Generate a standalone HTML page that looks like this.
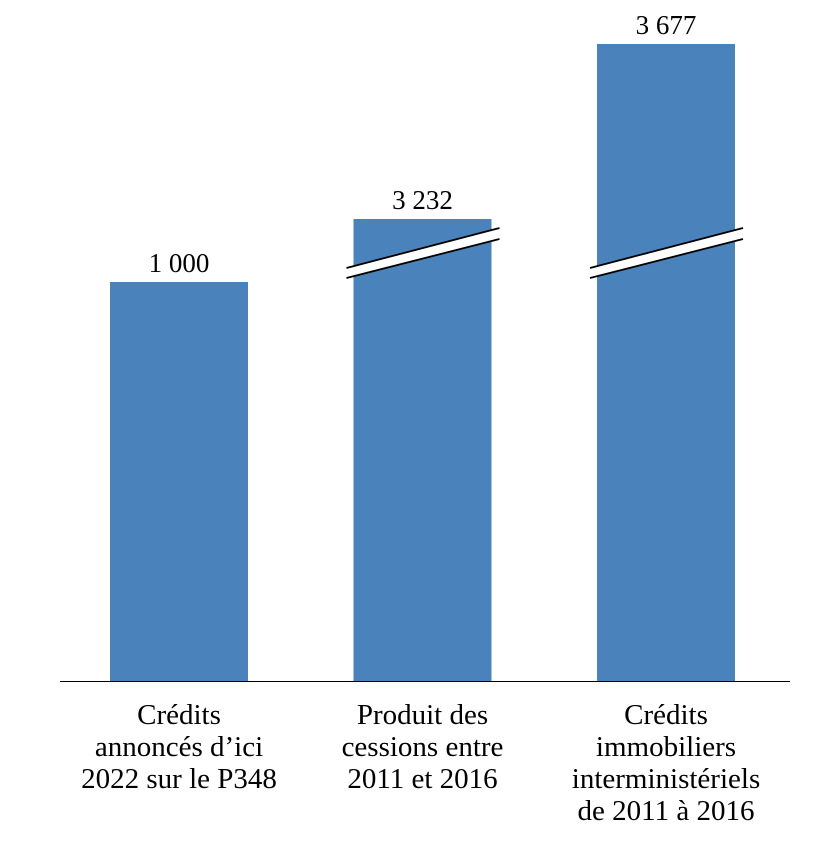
<!DOCTYPE html>
<html><head><meta charset="utf-8"><style>
body{margin:0;background:#fff;}
svg text{font-family:"Liberation Serif",serif;fill:#000;}
</style></head><body>
<svg width="824" height="850">
<g id="bars"></g>
<line x1="60" y1="681.5" x2="790" y2="681.5" stroke="#000" stroke-width="1"/>
<g id="labels"></g>
</svg>
<script>
const categories=[["Crédits","annoncés d’ici","2022 sur le P348"],["Produit des","cessions entre","2011 et 2016"],["Crédits","immobiliers","interministériels","de 2011 à 2016"]];
const values=[1000,3232,3677];
const valueLabels=["1 000","3 232","3 677"];
const broken=[false,true,true];
const base=681, barW=138;
function xPos(i){return 110+i*243.5;}
function hScale(v){return v<=1000? v*0.399 : 462+(v-3232)*0.3933;}
const ns="http://www.w3.org/2000/svg";
const gb=document.getElementById('bars'),gl=document.getElementById('labels');
values.forEach((v,i)=>{
  const x=xPos(i),h=hScale(v),y=base-h;
  const r=document.createElementNS(ns,'rect');
  r.setAttribute('x',x);r.setAttribute('y',y);r.setAttribute('width',barW);r.setAttribute('height',h);r.setAttribute('fill','#4a83bc');
  
  
  gb.appendChild(r);
  if(broken[i]){
    const p=document.createElementNS(ns,'polygon');
    const x1=x-7,x2=x+barW+8;
    p.setAttribute('points',`${x1},268 ${x2},228 ${x2},239 ${x1},278`);
    p.setAttribute('fill','#fff');
    
    
    gb.appendChild(p);
    [[268,228],[278,239]].forEach(([a,b])=>{
      const l=document.createElementNS(ns,'line');
      l.setAttribute('x1',x1);l.setAttribute('y1',a);l.setAttribute('x2',x2);l.setAttribute('y2',b);
      l.setAttribute('stroke','#000');l.setAttribute('stroke-width','1.8');
      
      
      gb.appendChild(l);
    });
  }
  const t=document.createElementNS(ns,'text');
  t.setAttribute('x',x+barW/2);t.setAttribute('y',y-10);t.setAttribute('text-anchor','middle');t.setAttribute('font-size','27');
  t.textContent=valueLabels[i];
  
  
  gl.appendChild(t);
  categories[i].forEach((line,j)=>{
    const c=document.createElementNS(ns,'text');
    c.setAttribute('x',x+barW/2);c.setAttribute('y',724+j*32);c.setAttribute('text-anchor','middle');c.setAttribute('font-size','29');
    c.textContent=line;
    
    
    gl.appendChild(c);
  });
});
</script>
</body></html>
